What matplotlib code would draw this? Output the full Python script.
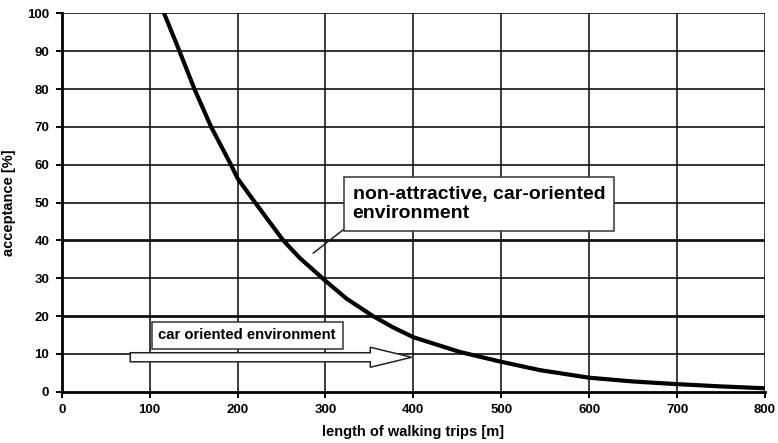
import matplotlib
matplotlib.use("Agg")
import matplotlib.pyplot as plt
from matplotlib.patches import FancyArrow

plt.rcParams['font.family'] = ['Liberation Sans', 'DejaVu Sans']

# acceptance curve
trip_length = [116.5, 134, 151, 170, 192.5, 200, 220, 252, 271, 300, 324, 354, 377, 400,
               453, 500, 544, 600, 650, 700, 750, 800]
acceptance = [100, 90, 80, 70, 60, 56.4, 50, 40, 35.3, 29.3, 24.6, 20, 17, 14.4,
              10.5, 7.9, 5.7, 3.7, 2.7, 2.0, 1.4, 0.9]

x_ticks = [0, 100, 200, 300, 400, 500, 600, 700, 800]
y_ticks = [0, 10, 20, 30, 40, 50, 60, 70, 80, 90, 100]
thick_y = [20, 40]

label_box = "non-attractive, car-oriented\nenvironment"
label_arrow = "car oriented environment"

fig = plt.figure(figsize=(7.78, 4.43), dpi=100)
ax = fig.add_axes([0.0793, 0.1158, 0.904, 0.854])

# grid
for xv in x_ticks[1:]:
    ax.axvline(xv, color='#1a1a1a', lw=1.2, zorder=1)
for yv in y_ticks[1:]:
    lw = 2.0 if yv in thick_y else 1.2
    ax.axhline(yv, color='#111111', lw=lw, zorder=1)

ax.plot(trip_length, acceptance, color='black', lw=3.0, zorder=3,
        solid_joinstyle='round')

ax.set_xlim(0, 800)
ax.set_ylim(0, 100)
ax.set_xticks(x_ticks)
ax.set_yticks(y_ticks)
for s in ['top', 'right']:
    ax.spines[s].set_visible(False)
for s in ['left', 'bottom']:
    ax.spines[s].set_linewidth(2.0)
ax.tick_params(direction='out', length=4, width=1.4, labelsize=9.5, pad=5)
for lab in ax.get_xticklabels() + ax.get_yticklabels():
    lab.set_fontweight('bold')

ax.set_xlabel('length of walking trips [m]', fontsize=10.5, fontweight='bold', labelpad=6)
ax.set_ylabel('acceptance [%]', fontsize=10.5, fontweight='bold', labelpad=8)

# callout box with pointer
ax.annotate(label_box, xy=(286, 36.6), xytext=(331, 49.6),
            fontsize=14, fontweight='bold', va='center', ha='left', linespacing=1.2,
            bbox=dict(boxstyle='square,pad=0.45', fc='white', ec='#333333', lw=1.1),
            arrowprops=dict(arrowstyle='-', color='#222222', lw=1.1,
                            relpos=(0, 0), shrinkA=0, shrinkB=0),
            zorder=5)

# hollow arrow with its label
arrow = FancyArrow(78, 9.1, 320, 0, width=2.4, head_width=5.3, head_length=47,
                   length_includes_head=True, fc='white', ec='#222222', lw=1.1, zorder=4)
ax.add_patch(arrow)
ax.text(110, 14.9, label_arrow, fontsize=10.7, fontweight='bold', va='center', ha='left',
        bbox=dict(boxstyle='square,pad=0.45', fc='white', ec='#333333', lw=1.1), zorder=5)

fig.savefig('out.png', dpi=100)
